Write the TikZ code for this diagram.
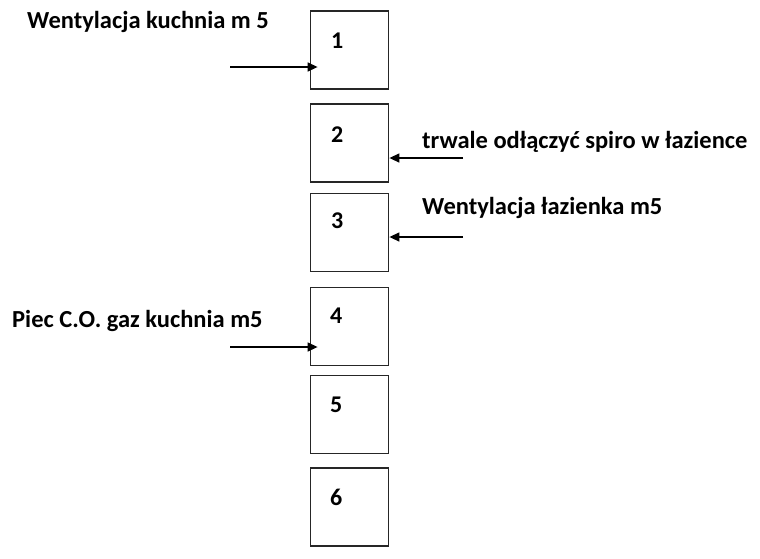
\documentclass[tikz,border=0pt]{standalone}
\usepackage{fontspec}
\setmainfont{Carlito}
\usetikzlibrary{calc,arrows.meta}
\begin{document}
\begin{tikzpicture}[x=1pt,y=-1pt,
  box/.style={draw=black!85,line width=1.8pt,minimum width=78pt,minimum height=78pt,inner sep=0pt},
  num/.style={anchor=base west,inner sep=0pt,font=\fontsize{24}{27}\selectfont\bfseries},
  lbl/.style={anchor=base west,inner sep=0pt,font=\fontsize{24.5}{27}\selectfont\bfseries},
  arr/.style={line width=1.4pt,-{Triangle[length=10pt,width=9pt]}}]
\useasboundingbox (0,0) rectangle (760,558);
\node[box] (b1) at (349.5,50) {};
\node[box] (b2) at (349.5,143) {};
\node[box] (b3) at (349.5,232.5) {};
\node[box] (b4) at (349.5,326.5) {};
\node[box] (b5) at (349.5,414.5) {};
\node[box] (b6) at (349.5,507) {};
\node[num] (n1) at (331,48) {1};
\node[num] (n2) at (331,142) {2};
\node[num] (n3) at (331,228) {3};
\node[num] (n4) at (330,323) {4};
\node[num] (n5) at (330,412) {5};
\node[num] (n6) at (330,505) {6};
\node[lbl] (l1) at (27,28) {Wentylacja kuchnia m 5};
\node[lbl] (l2) at (422,148) {trwale odłączyć spiro w łazience};
\node[lbl] (l3) at (422,214) {Wentylacja łazienka m5};
\node[lbl] (l4) at (12,327) {Piec C.O. gaz kuchnia m5};
\coordinate (a1) at (230,67);
\coordinate (a2) at (463,158);
\coordinate (a3) at (463,237);
\coordinate (a4) at (230,347);
\draw[arr] (a1) -- ($(a1 -| b1.west)+(8,0)$);
\draw[arr] (a2) -- (a2 -| b2.east);
\draw[arr] (a3) -- (a3 -| b3.east);
\draw[arr] (a4) -- ($(a4 -| b4.west)+(8,0)$);
\end{tikzpicture}
\end{document}
